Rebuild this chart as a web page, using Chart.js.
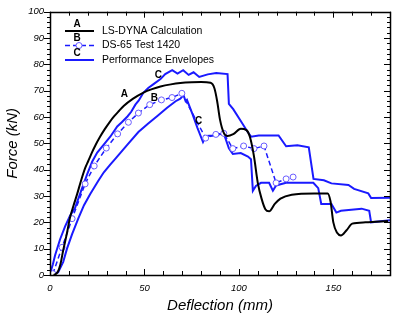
<!DOCTYPE html>
<html>
<head>
<meta charset="utf-8">
<script src="https://cdn.jsdelivr.net/npm/chart.js@4.4.1/dist/chart.umd.min.js"></script>
<style>
  html, body { margin: 0; padding: 0; background: #fff; }
  #wrap { width: 398px; height: 321px; }
</style>
</head>
<body>
<div id="wrap"><canvas id="forceChart" width="398" height="321"></canvas></div>
<script>
// LS-DYNA calculation (A)
const lsX = [2, 4, 5.5, 7, 9, 10.6, 12.5, 14.4, 16.5, 18.6, 20.2, 22, 24, 26.5, 29, 31.5, 34, 36.5, 39, 44, 49.5, 54, 58.5, 64, 69, 75, 80, 85, 87, 88.5, 90, 92, 94, 97, 101, 104, 106, 108, 110, 112, 114, 116, 119, 122, 128, 140, 147, 148.5, 150, 152, 154, 157, 160, 167, 179];
const lsY = [0, 1, 4, 9.4, 16, 21.8, 26.5, 30.8, 36, 40.6, 43.2, 46.2, 49.2, 52.5, 55.4, 58, 60.3, 62.3, 64.2, 67, 69.3, 70.6, 71.6, 72.4, 72.9, 73.2, 73.3, 73, 71, 66, 59, 54, 52.8, 53.5, 55.5, 55, 52, 45, 35, 29, 25, 24.2, 27, 29, 30.5, 31, 31, 28, 20, 16, 15, 17, 19.5, 20, 20.5];

// DS-65 test 1420 (B)
const testX = [1.5, 6.4, 11.7, 18.6, 23.4, 29.8, 35.8, 41.5, 46.8, 52.8, 59, 64.6, 69.8, 82.4, 87.8, 92, 96.8, 102.5, 108, 113.3, 119.7, 125, 128.7];
const testY = [0.5, 10.5, 21.4, 34.6, 41.4, 48.2, 53.6, 58, 61.5, 64.7, 66.5, 67.4, 69, 52, 53.4, 53.8, 48, 49, 48, 49, 35, 36.5, 37.2];

// performance envelopes (C), upper and lower bound
const upX = [0, 1.5, 2.7, 5.3, 8, 10.6, 13.3, 15, 17, 19.7, 22.3, 25, 29, 32, 35.6, 38, 41, 43, 45.2, 47, 49.5, 52, 55, 58.5, 61, 64.7, 67.5, 70.5, 73.4, 76, 79, 83.5, 88, 94, 94.7, 97, 101, 104.5, 106.5, 110.5, 121, 125, 131, 137, 139.5, 145, 149, 158, 161, 168.5, 170, 180];
const upY = [0.5, 4, 7.5, 13.5, 18.5, 22.5, 25.5, 29, 33, 38.3, 43, 46.5, 50, 52.6, 56.4, 58, 60.2, 62, 64.7, 66.3, 69.3, 71, 72.6, 74.4, 76.3, 77.8, 76.5, 77.8, 76, 77, 75.2, 76.2, 76.7, 76.3, 65, 63, 58.5, 54.5, 52.5, 53, 53, 48.9, 49.3, 48.5, 36.5, 36, 34.8, 34.2, 32.7, 31, 29.2, 29.3];
const loX = [1.6, 4.3, 7, 9, 11.7, 15, 18, 21.3, 25.5, 28.5, 32, 35, 41, 46.8, 52, 57, 62, 66.5, 69, 70.7, 71.8, 72.5, 75.5, 78, 81, 82.5, 87, 92, 94.7, 96.8, 101, 104.8, 106.4, 107.4, 109, 111.7, 116, 118, 119.7, 125, 131, 139.4, 142, 143.6, 149, 151.6, 154, 165, 169, 170, 180];
const loY = [0.5, 1, 5, 10, 15.5, 21.5, 26.5, 30.8, 35.7, 39, 42, 44.5, 49.5, 54.3, 57.5, 60.5, 63.5, 66, 67, 68.3, 66, 66.5, 61, 56, 50.5, 52.8, 53, 53.8, 48.1, 46, 46.3, 45, 44, 32, 33.8, 35, 35, 32, 34, 35, 35, 35, 33, 27, 27, 23.7, 24.4, 25.2, 24.4, 20, 20.8];

// letter tags written next to the curves
const tagText = ['A', 'B', 'C', 'C'];
const tagX = [39.4, 55.3, 57.4, 78.7];
const tagY = [68.8, 67, 76, 58.3];

const legendTags = ['A', 'B', 'C'];
const legendNames = ['LS-DYNA Calculation', 'DS-65 Test 1420', 'Performance Envelopes'];

const xTicks = [0, 50, 100, 150];

const BLUE = '#1a1aff';
const FONT = '"Liberation Sans", Arial, Helvetica, sans-serif';

function toPoints(xs, ys) {
  return xs.map((x, i) => ({ x: x, y: ys[i] }));
}

// box around the plot with tick marks on every side
const frameTicks = {
  id: 'frameTicks',
  afterDatasetsDraw(chart) {
    const { ctx, chartArea: a, scales: { x, y } } = chart;
    ctx.save();
    ctx.strokeStyle = '#000';
    ctx.lineWidth = 1;
    ctx.beginPath();
    for (let v = 0; v <= 180; v += 10) {
      const px = Math.round(x.getPixelForValue(v)) + 0.5;
      const len = v % 50 === 0 ? 6 : 4;
      ctx.moveTo(px, a.bottom); ctx.lineTo(px, a.bottom - len);
      ctx.moveTo(px, a.top); ctx.lineTo(px, a.top + len);
    }
    for (let v = 0; v <= 100; v += 2) {
      const py = Math.round(y.getPixelForValue(v)) + 0.5;
      const len = v % 10 === 0 ? 6 : 3;
      ctx.moveTo(a.left, py); ctx.lineTo(a.left - len, py);
      ctx.moveTo(a.right, py); ctx.lineTo(a.right - len, py);
    }
    ctx.stroke();
    ctx.lineWidth = 1.5;
    ctx.strokeRect(Math.round(a.left) + 0.5, Math.round(a.top) + 0.5,
      Math.round(a.right - a.left), Math.round(a.bottom - a.top));
    ctx.restore();
  }
};

// legend, curve tags and axis titles
const annotations = {
  id: 'annotations',
  afterDraw(chart) {
    const { ctx, chartArea: a, scales: { x, y } } = chart;
    const ds = chart.data.datasets;
    ctx.save();

    ctx.fillStyle = '#000';
    ctx.font = 'bold 10px ' + FONT;
    ctx.textAlign = 'center';
    ctx.textBaseline = 'middle';
    tagText.forEach((t, i) => {
      ctx.fillText(t, x.getPixelForValue(tagX[i]), y.getPixelForValue(tagY[i]));
    });

    // legend rows: tag letter above a line sample, name to the right
    legendNames.forEach((name, i) => {
      const rowY = 31 + i * 14.5;
      const d = ds[i];
      ctx.fillStyle = '#000';
      ctx.font = 'bold 10px ' + FONT;
      ctx.textAlign = 'center';
      ctx.fillText(legendTags[i], 77, rowY - 7);
      ctx.strokeStyle = d.borderColor;
      ctx.lineWidth = d.borderWidth;
      ctx.setLineDash(d.borderDash || []);
      ctx.beginPath();
      ctx.moveTo(65, rowY);
      ctx.lineTo(94, rowY);
      ctx.stroke();
      ctx.setLineDash([]);
      if (d.pointRadius) {
        ctx.fillStyle = d.pointBackgroundColor;
        ctx.strokeStyle = d.pointBorderColor;
        ctx.lineWidth = 1;
        ctx.beginPath();
        ctx.arc(79, rowY, 3, 0, Math.PI * 2);
        ctx.fill();
        ctx.stroke();
      }
      ctx.fillStyle = '#000';
      ctx.font = '10.5px ' + FONT;
      ctx.textAlign = 'left';
      ctx.fillText(name, 102, rowY);
    });

    ctx.font = 'italic 15px ' + FONT;
    ctx.textAlign = 'center';
    ctx.fillText('Deflection (mm)', (a.left + a.right) / 2, 306);
    ctx.translate(13, (a.top + a.bottom) / 2);
    ctx.rotate(-Math.PI / 2);
    ctx.fillText('Force (kN)', 0, 0);
    ctx.restore();
  }
};

new Chart(document.getElementById('forceChart'), {
  type: 'line',
  data: {
    datasets: [
      {
        label: legendNames[0],
        data: toPoints(lsX, lsY),
        borderColor: '#000',
        borderWidth: 2,
        pointRadius: 0,
        cubicInterpolationMode: 'monotone'
      },
      {
        label: legendNames[1],
        data: toPoints(testX, testY),
        borderColor: BLUE,
        borderWidth: 1.5,
        borderDash: [5, 3],
        pointRadius: 3,
        pointBorderWidth: 1,
        pointBorderColor: '#6a5cff',
        pointBackgroundColor: '#fff',
        tension: 0
      },
      {
        label: legendNames[2],
        data: toPoints(upX, upY),
        borderColor: BLUE,
        borderWidth: 2,
        pointRadius: 0,
        tension: 0
      },
      {
        label: legendNames[2] + ' (lower)',
        data: toPoints(loX, loY),
        borderColor: BLUE,
        borderWidth: 2,
        pointRadius: 0,
        tension: 0
      }
    ]
  },
  options: {
    responsive: false,
    animation: false,
    layout: { padding: { top: 9, right: 8, left: 0, bottom: 0 } },
    plugins: {
      legend: { display: false },
      tooltip: { enabled: false }
    },
    scales: {
      x: {
        type: 'linear',
        min: 0,
        max: 180,
        afterFit: s => { s.height = 46; },
        afterBuildTicks: s => { s.ticks = xTicks.map(v => ({ value: v })); },
        grid: { display: false, drawTicks: false },
        border: { display: false },
        ticks: {
          padding: 8,
          color: '#000',
          font: { family: FONT, size: 9.5, style: 'italic' }
        }
      },
      y: {
        min: 0,
        max: 100,
        afterFit: s => { s.width = 50; },
        grid: { display: false, drawTicks: false },
        border: { display: false },
        ticks: {
          stepSize: 10,
          padding: 6,
          color: '#000',
          font: { family: FONT, size: 9.5, style: 'italic' }
        }
      }
    }
  },
  plugins: [frameTicks, annotations]
});
</script>
</body>
</html>
